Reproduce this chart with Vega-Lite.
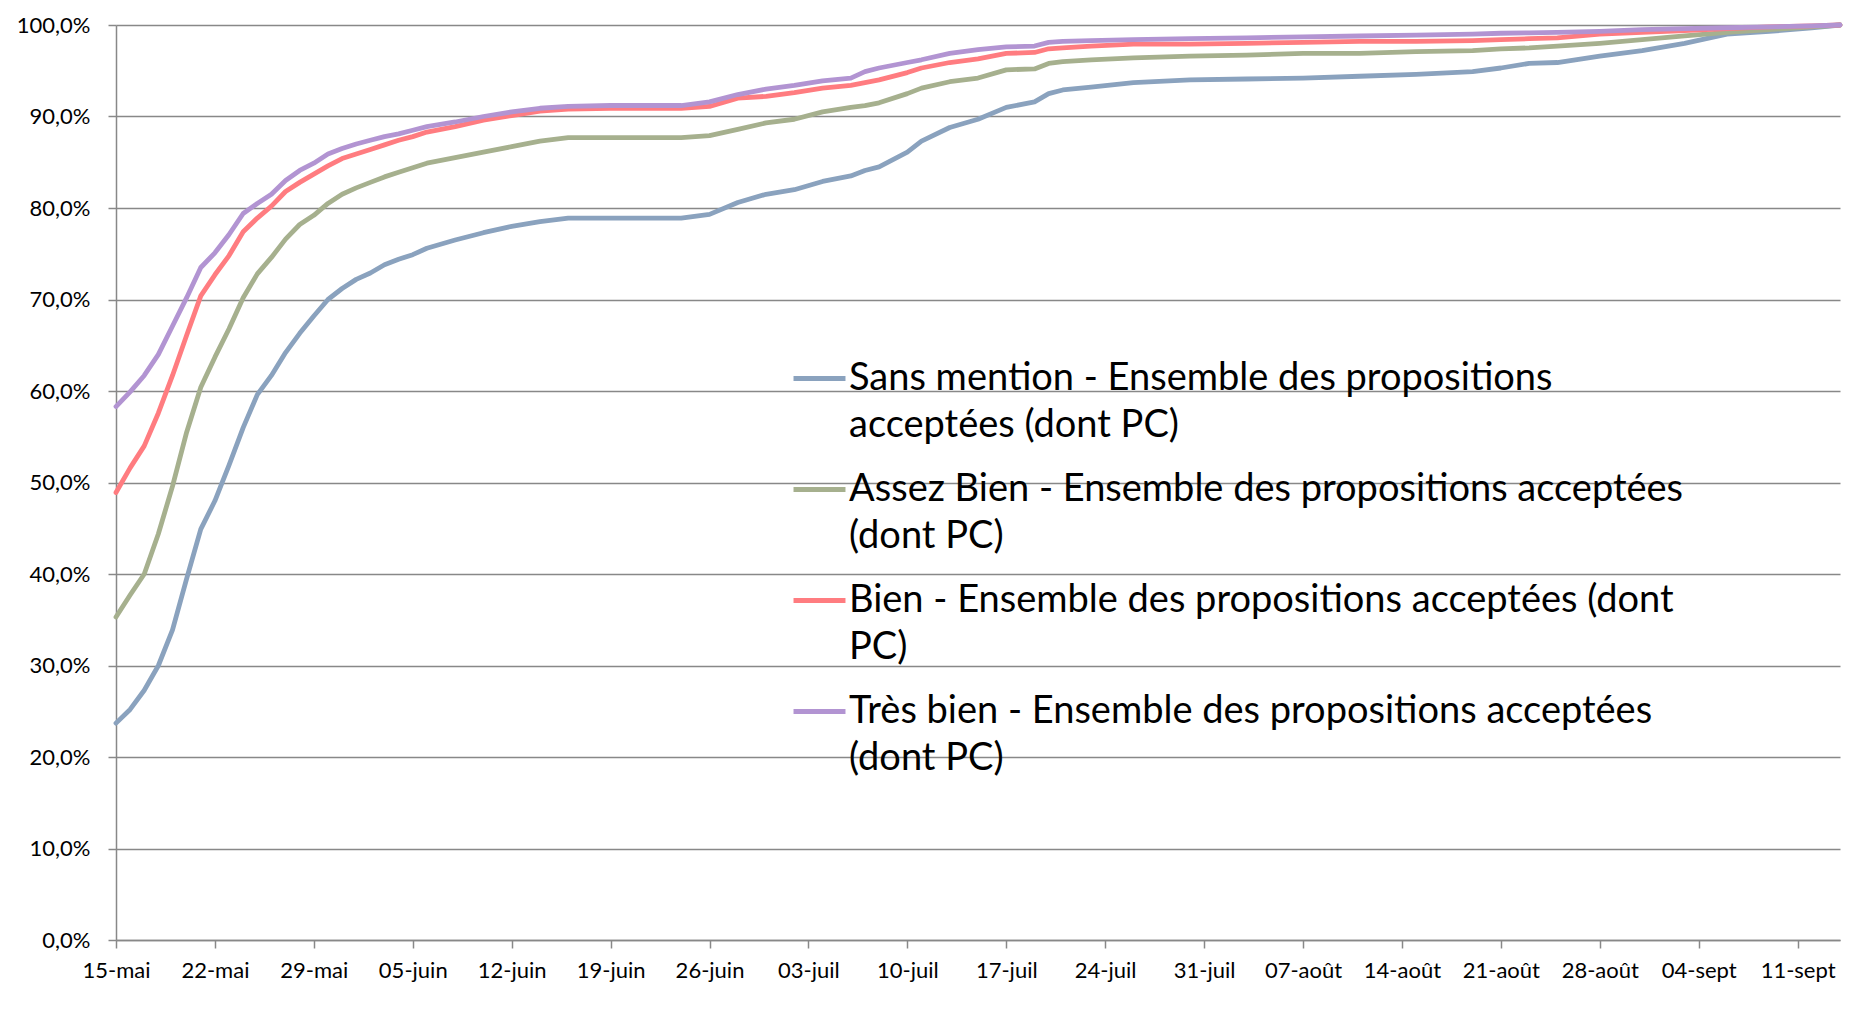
{
  "$schema": "https://vega.github.io/schema/vega-lite/v6.json",
  "autosize": {"type": "none"},
  "width": 1724,
  "height": 915,
  "padding": {"left": 116, "top": 25, "right": 17, "bottom": 78},
  "background": "white",
  "config": {
    "view": {"stroke": null},
    "font": "Lato",
    "axis": {"labelFont": "Lato", "labelFontSize": 22, "labelColor": "#000", "domainColor": "#888", "domainWidth": 1.5, "tickColor": "#888", "tickWidth": 1.5, "tickSize": 8, "gridColor": "#888", "gridWidth": 1.5, "title": null}
  },
  "data": {
    "values": [
      {"date": "2016-05-15", "Sans mention": 23.7, "Assez Bien": 35.3, "Bien": 48.9, "Très bien": 58.3},
      {"date": "2016-05-16", "Sans mention": 25.2, "Assez Bien": 37.7, "Bien": 51.6, "Très bien": 59.9},
      {"date": "2016-05-17", "Sans mention": 27.3, "Assez Bien": 40.0, "Bien": 54.0, "Très bien": 61.7},
      {"date": "2016-05-18", "Sans mention": 30.0, "Assez Bien": 44.4, "Bien": 57.6, "Très bien": 64.0},
      {"date": "2016-05-19", "Sans mention": 33.9, "Assez Bien": 49.6, "Bien": 61.7, "Très bien": 67.1},
      {"date": "2016-05-20", "Sans mention": 39.5, "Assez Bien": 55.5, "Bien": 66.1, "Très bien": 70.2},
      {"date": "2016-05-21", "Sans mention": 44.9, "Assez Bien": 60.4, "Bien": 70.4, "Très bien": 73.5},
      {"date": "2016-05-22", "Sans mention": 48.0, "Assez Bien": 63.7, "Bien": 72.7, "Très bien": 75.1},
      {"date": "2016-05-23", "Sans mention": 51.9, "Assez Bien": 66.8, "Bien": 74.8, "Très bien": 77.1},
      {"date": "2016-05-24", "Sans mention": 56.0, "Assez Bien": 70.2, "Bien": 77.4, "Très bien": 79.4},
      {"date": "2016-05-25", "Sans mention": 59.6, "Assez Bien": 72.8, "Bien": 78.9, "Très bien": 80.5},
      {"date": "2016-05-26", "Sans mention": 61.7, "Assez Bien": 74.6, "Bien": 80.2, "Très bien": 81.5},
      {"date": "2016-05-27", "Sans mention": 64.2, "Assez Bien": 76.6, "Bien": 81.8, "Très bien": 83.0},
      {"date": "2016-05-28", "Sans mention": 66.3, "Assez Bien": 78.2, "Bien": 82.8, "Très bien": 84.1},
      {"date": "2016-05-29", "Sans mention": 68.2, "Assez Bien": 79.2, "Bien": 83.7, "Très bien": 84.9},
      {"date": "2016-05-30", "Sans mention": 70.0, "Assez Bien": 80.5, "Bien": 84.6, "Très bien": 85.9},
      {"date": "2016-05-31", "Sans mention": 71.2, "Assez Bien": 81.5, "Bien": 85.4, "Très bien": 86.5},
      {"date": "2016-06-01", "Sans mention": 72.2, "Assez Bien": 82.2, "Bien": 85.9, "Très bien": 87.0},
      {"date": "2016-06-02", "Sans mention": 72.9, "Assez Bien": 82.8, "Bien": 86.4, "Très bien": 87.4},
      {"date": "2016-06-03", "Sans mention": 73.8, "Assez Bien": 83.4, "Bien": 86.9, "Très bien": 87.8},
      {"date": "2016-06-04", "Sans mention": 74.4, "Assez Bien": 83.9, "Bien": 87.4, "Très bien": 88.1},
      {"date": "2016-06-05", "Sans mention": 74.9, "Assez Bien": 84.4, "Bien": 87.8, "Très bien": 88.5},
      {"date": "2016-06-06", "Sans mention": 75.6, "Assez Bien": 84.9, "Bien": 88.3, "Très bien": 88.9},
      {"date": "2016-06-08", "Sans mention": 76.5, "Assez Bien": 85.5, "Bien": 88.9, "Très bien": 89.4},
      {"date": "2016-06-10", "Sans mention": 77.3, "Assez Bien": 86.1, "Bien": 89.6, "Très bien": 90.0},
      {"date": "2016-06-12", "Sans mention": 78.0, "Assez Bien": 86.7, "Bien": 90.1, "Très bien": 90.5},
      {"date": "2016-06-14", "Sans mention": 78.5, "Assez Bien": 87.3, "Bien": 90.6, "Très bien": 90.9},
      {"date": "2016-06-16", "Sans mention": 78.9, "Assez Bien": 87.7, "Bien": 90.8, "Très bien": 91.1},
      {"date": "2016-06-19", "Sans mention": 78.9, "Assez Bien": 87.7, "Bien": 90.9, "Très bien": 91.2},
      {"date": "2016-06-22", "Sans mention": 78.9, "Assez Bien": 87.7, "Bien": 90.9, "Très bien": 91.2},
      {"date": "2016-06-24", "Sans mention": 78.9, "Assez Bien": 87.7, "Bien": 90.9, "Très bien": 91.2},
      {"date": "2016-06-26", "Sans mention": 79.3, "Assez Bien": 87.9, "Bien": 91.1, "Très bien": 91.6},
      {"date": "2016-06-28", "Sans mention": 80.6, "Assez Bien": 88.6, "Bien": 92.0, "Très bien": 92.4},
      {"date": "2016-06-30", "Sans mention": 81.5, "Assez Bien": 89.3, "Bien": 92.2, "Très bien": 93.0},
      {"date": "2016-07-02", "Sans mention": 82.0, "Assez Bien": 89.7, "Bien": 92.6, "Très bien": 93.4},
      {"date": "2016-07-04", "Sans mention": 82.9, "Assez Bien": 90.5, "Bien": 93.1, "Très bien": 93.9},
      {"date": "2016-07-06", "Sans mention": 83.5, "Assez Bien": 91.0, "Bien": 93.4, "Très bien": 94.2},
      {"date": "2016-07-07", "Sans mention": 84.1, "Assez Bien": 91.2, "Bien": 93.7, "Très bien": 94.9},
      {"date": "2016-07-08", "Sans mention": 84.5, "Assez Bien": 91.5, "Bien": 94.0, "Très bien": 95.3},
      {"date": "2016-07-10", "Sans mention": 86.1, "Assez Bien": 92.5, "Bien": 94.8, "Très bien": 95.9},
      {"date": "2016-07-11", "Sans mention": 87.3, "Assez Bien": 93.1, "Bien": 95.3, "Très bien": 96.2},
      {"date": "2016-07-13", "Sans mention": 88.8, "Assez Bien": 93.8, "Bien": 95.9, "Très bien": 96.9},
      {"date": "2016-07-15", "Sans mention": 89.7, "Assez Bien": 94.2, "Bien": 96.3, "Très bien": 97.3},
      {"date": "2016-07-17", "Sans mention": 91.0, "Assez Bien": 95.1, "Bien": 96.9, "Très bien": 97.6},
      {"date": "2016-07-19", "Sans mention": 91.6, "Assez Bien": 95.2, "Bien": 97.0, "Très bien": 97.7},
      {"date": "2016-07-20", "Sans mention": 92.5, "Assez Bien": 95.8, "Bien": 97.4, "Très bien": 98.1},
      {"date": "2016-07-21", "Sans mention": 92.9, "Assez Bien": 96.0, "Bien": 97.5, "Très bien": 98.2},
      {"date": "2016-07-23", "Sans mention": 93.2, "Assez Bien": 96.2, "Bien": 97.7, "Très bien": 98.3},
      {"date": "2016-07-26", "Sans mention": 93.7, "Assez Bien": 96.4, "Bien": 97.9, "Très bien": 98.4},
      {"date": "2016-07-30", "Sans mention": 94.0, "Assez Bien": 96.6, "Bien": 97.9, "Très bien": 98.5},
      {"date": "2016-08-03", "Sans mention": 94.1, "Assez Bien": 96.7, "Bien": 98.0, "Très bien": 98.6},
      {"date": "2016-08-07", "Sans mention": 94.2, "Assez Bien": 96.9, "Bien": 98.1, "Très bien": 98.7},
      {"date": "2016-08-11", "Sans mention": 94.4, "Assez Bien": 96.9, "Bien": 98.2, "Très bien": 98.8},
      {"date": "2016-08-15", "Sans mention": 94.6, "Assez Bien": 97.1, "Bien": 98.2, "Très bien": 98.9},
      {"date": "2016-08-19", "Sans mention": 94.9, "Assez Bien": 97.2, "Bien": 98.3, "Très bien": 99.0},
      {"date": "2016-08-21", "Sans mention": 95.3, "Assez Bien": 97.4, "Bien": 98.4, "Très bien": 99.1},
      {"date": "2016-08-23", "Sans mention": 95.8, "Assez Bien": 97.5, "Bien": 98.5, "Très bien": 99.15},
      {"date": "2016-08-25", "Sans mention": 95.9, "Assez Bien": 97.7, "Bien": 98.6, "Très bien": 99.2},
      {"date": "2016-08-28", "Sans mention": 96.6, "Assez Bien": 98.0, "Bien": 99.0, "Très bien": 99.3},
      {"date": "2016-08-31", "Sans mention": 97.2, "Assez Bien": 98.4, "Bien": 99.2, "Très bien": 99.5},
      {"date": "2016-09-03", "Sans mention": 98.0, "Assez Bien": 98.8, "Bien": 99.4, "Très bien": 99.6},
      {"date": "2016-09-06", "Sans mention": 99.0, "Assez Bien": 99.2, "Bien": 99.6, "Très bien": 99.7},
      {"date": "2016-09-09", "Sans mention": 99.3, "Assez Bien": 99.5, "Bien": 99.8, "Très bien": 99.8},
      {"date": "2016-09-12", "Sans mention": 99.7, "Assez Bien": 99.8, "Bien": 99.9, "Très bien": 99.9},
      {"date": "2016-09-14", "Sans mention": 100.0, "Assez Bien": 100.0, "Bien": 100.0, "Très bien": 100.0}
    ]
  },
  "transform": [
    {"fold": ["Sans mention", "Assez Bien", "Bien", "Très bien"], "as": ["serie", "value"]}
  ],
  "mark": {"type": "line", "strokeWidth": 4.8, "strokeJoin": "round", "strokeCap": "round"},
  "encoding": {
    "x": {
      "field": "date",
      "type": "temporal",
      "scale": {
        "type": "utc",
        "domain": [{"year": 2016, "month": 5, "date": 15, "utc": true}, {"year": 2016, "month": 9, "date": 14, "utc": true}],
        "nice": false
      },
      "axis": {
        "grid": false,
        "labelPadding": 12,
        "labelBaseline": "top",
        "labelFlush": false,
        "labelBound": false,
        "values": [
          {"year": 2016, "month": 5, "date": 15, "utc": true},
          {"year": 2016, "month": 5, "date": 22, "utc": true},
          {"year": 2016, "month": 5, "date": 29, "utc": true},
          {"year": 2016, "month": 6, "date": 5, "utc": true},
          {"year": 2016, "month": 6, "date": 12, "utc": true},
          {"year": 2016, "month": 6, "date": 19, "utc": true},
          {"year": 2016, "month": 6, "date": 26, "utc": true},
          {"year": 2016, "month": 7, "date": 3, "utc": true},
          {"year": 2016, "month": 7, "date": 10, "utc": true},
          {"year": 2016, "month": 7, "date": 17, "utc": true},
          {"year": 2016, "month": 7, "date": 24, "utc": true},
          {"year": 2016, "month": 7, "date": 31, "utc": true},
          {"year": 2016, "month": 8, "date": 7, "utc": true},
          {"year": 2016, "month": 8, "date": 14, "utc": true},
          {"year": 2016, "month": 8, "date": 21, "utc": true},
          {"year": 2016, "month": 8, "date": 28, "utc": true},
          {"year": 2016, "month": 9, "date": 4, "utc": true},
          {"year": 2016, "month": 9, "date": 11, "utc": true}
        ],
        "labelExpr": "(utcdate(datum.value) < 10 ? '0' : '') + utcdate(datum.value) + '-' + ['janv','févr','mars','avr','mai','juin','juil','août','sept','oct','nov','déc'][utcmonth(datum.value)]",
        "labelOverlap": false
      }
    },
    "y": {
      "field": "value",
      "type": "quantitative",
      "scale": {"domain": [0, 100], "nice": false},
      "axis": {
        "values": [0, 10, 20, 30, 40, 50, 60, 70, 80, 90, 100],
        "labelPadding": 18,
        "labelExpr": "replace(format(datum.value, '.1f'), '.', ',') + '%'"
      }
    },
    "color": {
      "field": "serie",
      "type": "nominal",
      "scale": {
        "domain": ["Sans mention", "Assez Bien", "Bien", "Très bien"],
        "range": ["#8AA2BE", "#A6B08E", "#FF7C80", "#B294D2"]
      },
      "legend": {
        "orient": "none",
        "legendX": 675,
        "legendY": 325,
        "title": null,
        "padding": 0,
        "symbolType": "stroke",
        "symbolSize": 2700,
        "symbolStrokeWidth": 4.8,
        "labelFont": "Lato",
        "labelFontSize": 38,
        "labelColor": "#000",
        "labelLimit": 2000,
        "labelOffset": 1,
        "rowPadding": 16,
        "labelExpr": "datum.label == 'Sans mention' ? ['Sans mention - Ensemble des propositions', 'acceptées (dont PC)'] : datum.label == 'Assez Bien' ? ['Assez Bien - Ensemble des propositions acceptées', '(dont PC)'] : datum.label == 'Bien' ? ['Bien - Ensemble des propositions acceptées (dont', 'PC)'] : ['Très bien - Ensemble des propositions acceptées', '(dont PC)']",
        "encode": {"labels": {"update": {"lineHeight": {"value": 47}}}}
      }
    }
  }
}
